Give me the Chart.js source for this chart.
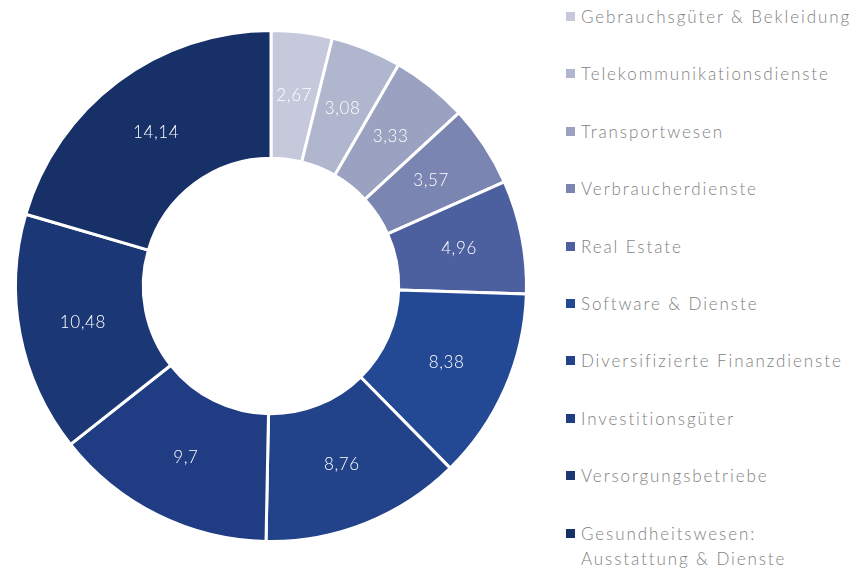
<!DOCTYPE html>
<html>
<head>
<meta charset="utf-8">
<script src="https://cdn.jsdelivr.net/npm/chart.js@4"></script>
<style>
  body { margin: 0; background: #fff; font-family: Lato, sans-serif; }
  .wrap { position: relative; width: 861px; height: 572px; }
  .chart-box { position: absolute; left: 0; top: 0; width: 542px; height: 572px; }
  #legend { position: absolute; left: 566px; top: 4px; width: 292px; margin: 0; padding: 0; list-style: none; }
  #legend li { position: relative; padding-left: 15px; line-height: 25px; margin-bottom: 32.4px;
    font-size: 17px; font-weight: 300; color: #7f7f7f; letter-spacing: 1.9px; }
  #legend li span { position: absolute; left: 0; top: 8px; width: 9px; height: 9px; }
</style>
</head>
<body>
<div class="wrap">
  <div class="chart-box"><canvas id="sectorChart"></canvas></div>
  <ul id="legend"></ul>
</div>
<script>
const labels = [
  "Gebrauchsgüter & Bekleidung",
  "Telekommunikationsdienste",
  "Transportwesen",
  "Verbraucherdienste",
  "Real Estate",
  "Software & Dienste",
  "Diversifizierte Finanzdienste",
  "Investitionsgüter",
  "Versorgungsbetriebe",
  "Gesundheitswesen: Ausstattung & Dienste",
];
const values = [2.67, 3.08, 3.33, 3.57, 4.96, 8.38, 8.76, 9.7, 10.48, 14.14];
const colors = [
  "#c6c9dc", "#b1b6cf", "#9aa1c1", "#7b85b2", "#4c5f9f",
  "#234894", "#224389", "#203d84", "#1c3775", "#173068",
];

// white value labels in the middle of each slice
const sliceLabels = {
  id: "sliceLabels",
  afterDatasetsDraw(chart) {
    const { ctx } = chart;
    const meta = chart.getDatasetMeta(0);
    ctx.save();
    ctx.fillStyle = "#fff";
    ctx.font = "300 17px Lato";
    ctx.letterSpacing = "0.6px";
    ctx.textAlign = "center";
    ctx.textBaseline = "middle";
    meta.data.forEach((arc, i) => {
      const p = arc.getCenterPoint();
      ctx.fillText(values[i].toString().replace(".", ","), p.x, p.y);
    });
    ctx.restore();
  },
};

const ctx = document.getElementById("sectorChart").getContext("2d");
const sectorChart = new Chart(ctx, {
  type: "doughnut",
  data: {
    labels: labels,
    datasets: [
      {
        data: values,
        backgroundColor: colors,
        borderColor: "#fff",
        borderWidth: 3,
        hoverOffset: 0,
      },
    ],
  },
  options: {
    responsive: true,
    maintainAspectRatio: false,
    animation: false,
    cutout: "50%",
    layout: { padding: { top: 29, bottom: 29 } },
    plugins: {
      legend: { display: false },
      tooltip: { enabled: false },
    },
  },
  plugins: [sliceLabels],
});

// legend on the right
const legendEl = document.getElementById("legend");
labels.forEach((label, i) => {
  const li = document.createElement("li");
  const box = document.createElement("span");
  box.style.background = colors[i];
  li.appendChild(box);
  li.appendChild(document.createTextNode(label));
  legendEl.appendChild(li);
});
</script>
</body>
</html>
